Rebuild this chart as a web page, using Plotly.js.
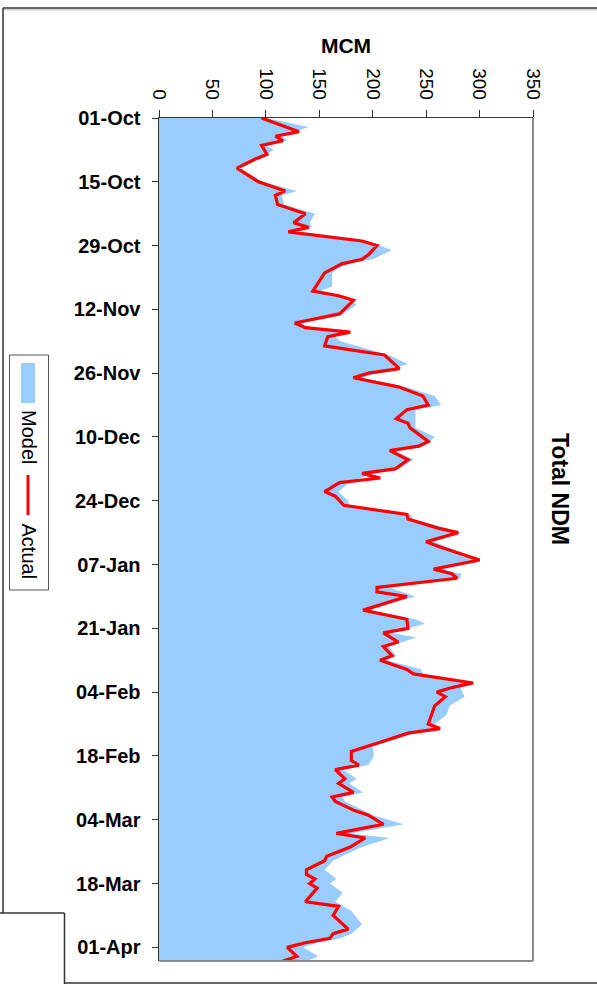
<!DOCTYPE html>
<html>
<head>
<meta charset="utf-8">
<script src="https://cdn.plot.ly/plotly-3.0.1.min.js"></script>
<style>html,body{margin:0;padding:0;background:#fff;}#chart{width:597px;height:984px;}</style>
</head>
<body>
<div id="chart"></div>
<script>
// ---- data (days counted from 01-Oct) ----
const START_DATE = '2006-10-01';
const END_DAY = 185;
const actualDay = [0,3,4,5,6,8,9,11,14,16,17,19,21,23,24,25,27,28,30,31,32,33,34,38,39,40,43,45,46,47,48,50,52,55,56,57,59,61,63,64,66,67,68,71,72,73,75,77,78,79,80,82,83,85,87,88,90,91,93,94,97,99,100,101,103,104,105,108,110,112,113,115,116,118,119,121,122,124,125,126,127,129,133,134,135,137,138,139,141,142,143,145,146,148,149,150,152,153,155,157,158,160,162,163,165,166,167,168,169,172,173,175,178,179,180,181,182,184,185];
const actualVal = [96,131,109,116,96,101,90,73,93,118,109,111,137,126,140,121,190,204,196,190,171,163,155,144,168,182,169,127,137,179,158,155,211,225,196,182,224,247,252,232,222,233,235,252,243,216,233,221,190,207,169,155,165,173,232,233,261,280,250,261,300,257,274,279,204,204,232,191,232,233,210,224,210,218,207,232,238,294,274,260,268,258,252,263,233,207,193,180,180,187,165,174,168,182,162,165,183,196,210,166,193,179,157,155,138,138,146,141,148,137,168,163,177,163,160,137,120,129,116];
const modelDay = [0,2,4,5,6,7,9,11,14,16,17,19,21,23,24,25,27,29,31,32,33,34,37,38,39,41,43,45,46,47,48,49,52,54,56,57,59,61,63,64,67,68,70,72,73,75,77,78,80,82,84,85,87,88,90,91,93,94,97,99,100,101,103,105,108,110,111,113,114,116,118,119,121,122,124,125,127,129,131,133,134,135,137,138,140,142,143,145,146,148,149,150,152,153,155,157,158,160,162,163,165,167,168,170,172,174,177,179,180,181,182,184,185];
const modelVal = [100,140,115,120,100,107,95,76,97,129,115,117,146,141,143,128,195,218,200,178,168,162,162,150,172,185,172,133,140,175,165,170,215,233,205,190,230,258,264,240,240,240,258,248,222,238,225,200,178,168,177,178,235,238,268,283,258,268,298,262,283,282,215,240,197,240,249,218,241,215,222,213,245,247,292,282,286,272,269,258,264,240,213,200,201,196,172,185,178,191,172,174,192,200,229,180,216,190,171,163,155,166,160,172,165,180,190,180,170,148,135,149,138];
const tickDates = ['2006-10-01','2006-10-15','2006-10-29','2006-11-12','2006-11-26','2006-12-10','2006-12-24','2007-01-07','2007-01-21','2007-02-04','2007-02-18','2007-03-04','2007-03-18','2007-04-01'];
const tickText = ['01-Oct','15-Oct','29-Oct','12-Nov','26-Nov','10-Dec','24-Dec','07-Jan','21-Jan','04-Feb','18-Feb','04-Mar','18-Mar','01-Apr'];
const valueTicks = [0,50,100,150,200,250,300,350];
const seriesNames = ['Model','Actual'];

function dayToDate(d){
  const t = Date.UTC(2006,9,1) + d*86400000;
  return new Date(t).toISOString().slice(0,10);
}

// plot area in pixels
const W=597, H=984, PL=159, PR=533, PT=118, PB=961;
const fx = p => (p-PL)/(PR-PL);
const fy = p => (PB-p)/(PB-PT);
const FONT = 'Liberation Sans, Arial, sans-serif';

const traces = [
  {x: modelVal, y: modelDay.map(dayToDate), type:'scatter', mode:'lines', fill:'tozerox',
   fillcolor:'#99CCFF', line:{width:0, color:'#99CCFF'}, name:seriesNames[0], hoverinfo:'skip'},
  {x: actualVal, y: actualDay.map(dayToDate), type:'scatter', mode:'lines',
   line:{width:3.2, color:'#FF0000'}, name:seriesNames[1]}
];

const dark = '#333333';
const shapes = [
  // plot-area gray border (right, bottom)
  {type:'line', xref:'paper', yref:'paper', x0:1, x1:1, y0:0, y1:1, line:{color:'#8c8c8c', width:2}},
  {type:'line', xref:'paper', yref:'paper', x0:0, x1:1, y0:0, y1:0, line:{color:'#8c8c8c', width:2}},
  // outer frame
  {type:'line', xref:'paper', yref:'paper', x0:fx(3), x1:fx(597), y0:fy(8), y1:fy(8), line:{color:dark, width:1.5}},
  {type:'line', xref:'paper', yref:'paper', x0:fx(3), x1:fx(597), y0:fy(9.8), y1:fy(9.8), line:{color:'#bbbbbb', width:1}},
  {type:'line', xref:'paper', yref:'paper', x0:fx(3), x1:fx(3), y0:fy(8), y1:fy(913), line:{color:dark, width:1.5}},
  {type:'line', xref:'paper', yref:'paper', x0:fx(0), x1:fx(64.5), y0:fy(913), y1:fy(913), line:{color:dark, width:1.5}},
  {type:'line', xref:'paper', yref:'paper', x0:fx(64.5), x1:fx(64.5), y0:fy(913), y1:fy(984), line:{color:dark, width:1.5}},
  {type:'line', xref:'paper', yref:'paper', x0:fx(64.5), x1:fx(597), y0:fy(983), y1:fy(983), line:{color:dark, width:1.5}},
  // legend box
  {type:'rect', xref:'paper', yref:'paper', x0:fx(9.5), x1:fx(48.5), y0:fy(355), y1:fy(590), line:{color:'#555', width:1}, fillcolor:'rgba(0,0,0,0)'},
  {type:'rect', xref:'paper', yref:'paper', x0:fx(21), x1:fx(35), y0:fy(363), y1:fy(403), line:{width:0}, fillcolor:'#99CCFF'},
  {type:'line', xref:'paper', yref:'paper', x0:fx(28), x1:fx(28), y0:fy(475), y1:fy(515), line:{color:'#FF0000', width:3}}
];

const annotations = [
  {text:'<b>Total NDM</b>', xref:'paper', yref:'paper', x:fx(560), y:fy(489), showarrow:false, textangle:90,
   font:{family:FONT, size:23, color:'#000'}, xanchor:'center', yanchor:'middle'},
  {text:seriesNames[0], xref:'paper', yref:'paper', x:fx(28.5), y:fy(436.5), showarrow:false, textangle:90,
   font:{family:FONT, size:20, color:'#000'}, xanchor:'center', yanchor:'middle'},
  {text:seriesNames[1], xref:'paper', yref:'paper', x:fx(28.5), y:fy(551), showarrow:false, textangle:90,
   font:{family:FONT, size:20, color:'#000'}, xanchor:'center', yanchor:'middle'}
];

const layout = {
  width:W, height:H,
  margin:{l:PL, r:W-PR, t:PT, b:H-PB, pad:0},
  paper_bgcolor:'#ffffff', plot_bgcolor:'#ffffff',
  showlegend:false,
  xaxis:{
    range:[0,350], side:'top', tickmode:'array', tickvals:valueTicks, ticktext:valueTicks.map(String),
    tickangle:90, ticks:'outside', ticklen:7, tickwidth:1, tickcolor:dark,
    showline:true, linecolor:dark, linewidth:1.5, showgrid:false, zeroline:false,
    tickfont:{family:FONT, size:19, color:'#000'}, ticklabelstandoff:3,
    title:{text:'<b>MCM</b>', font:{family:FONT, size:21, color:'#000'}, standoff:9}
  },
  yaxis:{
    type:'date', range:[dayToDate(END_DAY), START_DATE], tickmode:'array', tickvals:tickDates, ticktext:tickText,
    ticks:'outside', ticklen:6, tickwidth:1, tickcolor:dark,
    showline:true, linecolor:dark, linewidth:1.5, showgrid:false, zeroline:false,
    tickfont:{family:FONT, size:20, color:'#000', weight:'bold'}, ticklabelstandoff:7
  },
  shapes:shapes,
  annotations:annotations
};

Plotly.newPlot('chart', traces, layout, {displayModeBar:false, staticPlot:true});
</script>
</body>
</html>
